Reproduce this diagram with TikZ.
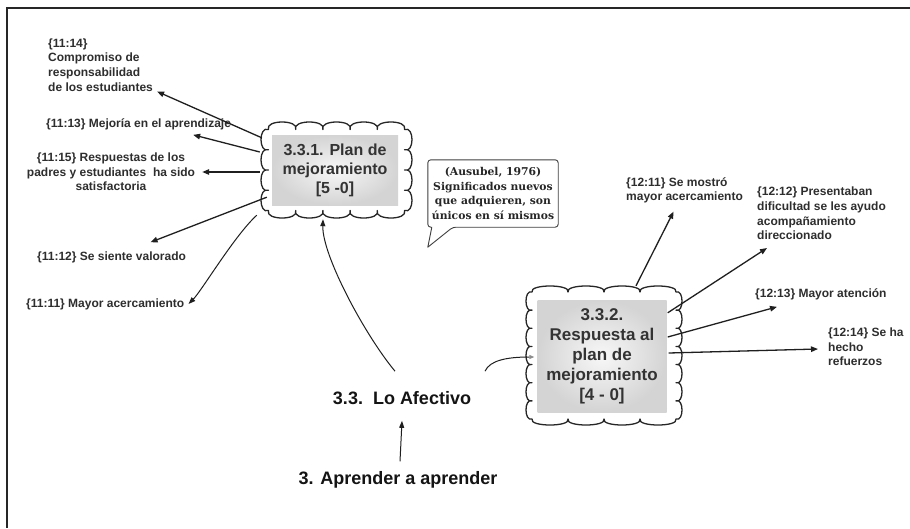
\documentclass[tikz,border=0pt]{standalone}
\usepackage{fontspec}
\setmainfont{Liberation Sans}
\newfontfamily\calloutfont{DejaVu Serif}
\usetikzlibrary{arrows.meta}

% scalloped outline round a rectangle:
% x0,y0,x1,y1, bumps across, bumps down, bump lift, bump spread
\newcommand\scallopbox[8]{%
  \filldraw[cloudline] (#1,#2)
    \foreach \i in {1,...,#5}{ .. controls ({#1+(#3-#1)*(\i-1)/#5-#8},{#2-#7})
        and ({#1+(#3-#1)*\i/#5+#8},{#2-#7}) .. ({#1+(#3-#1)*\i/#5},#2) }
    \foreach \i in {1,...,#6}{ .. controls ({#3+#7},{#2+(#4-#2)*(\i-1)/#6-#8})
        and ({#3+#7},{#2+(#4-#2)*\i/#6+#8}) .. (#3,{#2+(#4-#2)*\i/#6}) }
    \foreach \i in {1,...,#5}{ .. controls ({#3-(#3-#1)*(\i-1)/#5+#8},{#4+#7})
        and ({#3-(#3-#1)*\i/#5-#8},{#4+#7}) .. ({#3-(#3-#1)*\i/#5},#4) }
    \foreach \i in {1,...,#6}{ .. controls ({#1-#7},{#4-(#4-#2)*(\i-1)/#6+#8})
        and ({#1-#7},{#4-(#4-#2)*\i/#6-#8}) .. (#1,{#4-(#4-#2)*\i/#6}) }
    -- cycle;}

\begin{document}
\begin{tikzpicture}[x=1pt,y=-1pt,
  cloudline/.style={draw=black!85, line width=1.3pt, fill=white, line join=round},
  inner/.style={shade, inner color=black!3, outer color=black!17, align=center,
    text=black!80, inner sep=0pt},
  code/.style={font=\bfseries\fontsize{12}{14.6}\selectfont, text=black!82, inner sep=1pt},
  main/.style={font=\bfseries\fontsize{18}{21}\selectfont, text=black!92, inner sep=1pt},
  arr/.style={draw=black!88, line width=1.3pt, -{Triangle[length=7pt,width=5.5pt]}},
  thin arr/.style={draw=black!88, line width=1pt, -{Triangle[length=7pt,width=5pt]}},
  grey arr/.style={draw=black!88, line width=1pt, -{Triangle[length=5pt,width=4pt,color=black!45]}},
  frame/.style={draw=black!85, line width=2pt}]

\useasboundingbox (0,0) rectangle (910,528);
\fill[white] (0,0) rectangle (910,528);

% page frame
\draw[frame] (910,8) -- (7,8) -- (7,528);

% the two clouds
\scallopbox{268.5}{129.5}{404.5}{210.5}{5}{4}{10}{4}
\node[inner, minimum width=126pt, minimum height=70pt,
  font=\bfseries\fontsize{16}{19}\selectfont] (c1) at (335,170)
  {3.3.1. Plan de\\mejoramiento\\{}[5 -0]};

\scallopbox{532}{292}{676}{419}{4}{7}{8}{3}
\node[inner, minimum width=129pt, minimum height=112pt,
  font=\bfseries\fontsize{17}{20}\selectfont] (c2) at (602,356)
  {3.3.2.\\Respuesta al\\plan de\\mejoramiento\\{}[4 - 0]};

% central labels
\node[main] (la) at (402,398) {3.3.\ \ Lo Afectivo};
\node[main] (ap) at (398,480) {3. Aprender a aprender};

% left-hand codes
\node[code, anchor=west, align=left] (t14) at (47,65)
  {\{11:14\}\\Compromiso de\\responsabilidad\\de los estudiantes};
\node[code, anchor=west] (t13) at (45,124) {\{11:13\} Mejoría en el aprendizaje};
\node[code, align=center] (t15) at (111,172)
  {\{11:15\} Respuestas de los\\padres y estudiantes\ \ ha sido\\satisfactoria};
\node[code, anchor=west] (t12) at (36,257) {\{11:12\} Se siente valorado};
\node[code, anchor=west] (t11) at (25,304) {\{11:11\} Mayor acercamiento};

% right-hand codes
\node[code, anchor=west, align=left] (r11) at (625,190.5)
  {\{12:11\} Se mostró\\mayor acercamiento};
\node[code, anchor=west, align=left] (r12) at (756,213.5)
  {\{12:12\} Presentaban\\dificultad se les ayudo\\acompañamiento\\direccionado};
\node[code, anchor=west] (r13) at (754,294) {\{12:13\} Mayor atención};
\node[code, anchor=west, align=left] (r14) at (827,347)
  {\{12:14\} Se ha\\hecho\\refuerzos};

% speech bubble
\node[font=\calloutfont\bfseries\fontsize{10.8}{14.6}\selectfont, align=center,
  text=black!85, minimum width=130pt, minimum height=67pt, inner sep=0pt] (cb) at (493,193.5)
  {(Ausubel, 1976)\\Significados nuevos\\que adquieren, son\\únicos en sí mismos};
\draw[draw=black!75, line width=0.9pt, line join=round]
  ([xshift=4pt]cb.south west) [rounded corners=3pt] -- (cb.south west) -- (cb.north west)
  -- (cb.north east) -- (cb.south east) -- ([xshift=25pt]cb.south west) [sharp corners]
  -- ([shift={(0,20)}]cb.south west) -- cycle;

% ports on the cloud outlines
\coordinate (p1) at ([shift={(-10,3)}]c1.north west);
\coordinate (p2) at ([shift={(-12,-18)}]c1.west);
\coordinate (p3) at ([shift={(-12,2)}]c1.west);
\coordinate (p4) at ([shift={(-5,-8)}]c1.south west);
\coordinate (p5) at ([shift={(-15,10)}]c1.south west);
\coordinate (q1) at ([shift={(34,-14)}]c2.north);
\coordinate (q2) at ([shift={(1,13)}]c2.north east);
\coordinate (q3) at ([shift={(1,-19)}]c2.east);
\coordinate (q4) at ([shift={(2,-3)}]c2.east);

% connectors of the first cloud
\draw[arr] (p1) -- ([shift={(3,-1)}]t14.south east);
\draw[arr] (p2) -- ([shift={(-39,4)}]t13.south east);
\draw[arr] (p3) -- ([xshift=6pt]t15.east);
\draw[arr] (p4) -- ([shift={(39,-8)}]t12.north);
\draw[thin arr] (p5) .. controls ([shift={(-22,20)}]p5) and ([shift={(16,-13)}]t11.east)
  .. ([xshift=3pt]t11.east);

% connectors of the second cloud
\draw[arr] (q1) -- ([shift={(-11,7)}]r11.south);
\draw[arr] (q2) -- ([shift={(11,7)}]r12.south west);
\draw[arr] (q3) -- ([shift={(23,6)}]r13.south west);
\draw[arr] (q4) -- ([shift={(-9,2)}]r14.west);

% main connectors
\draw[thin arr] ([shift={(2,-9)}]ap.north) -- ([shift={(0,15)}]la.south);
\draw[thin arr] ([shift={(-7,-19)}]la.north)
  .. controls ([shift={(-37,-55)}]la.north) and ([shift={(-13,50)}]c1.south)
  .. ([shift={(-12,14)}]c1.south);
\draw[grey arr] ([shift={(83,-19)}]la.north)
  .. controls ([shift={(88,-30)}]la.north) and ([shift={(-30,1)}]c2.west)
  .. ([shift={(-3,1)}]c2.west);

\end{tikzpicture}
\end{document}
